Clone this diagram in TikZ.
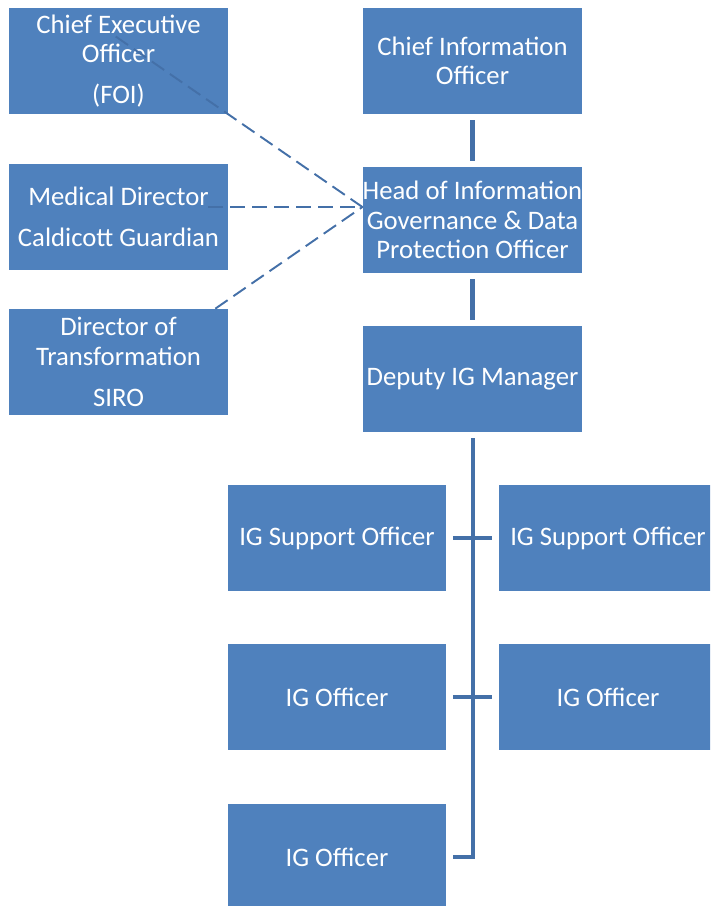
\documentclass[tikz,border=0pt]{standalone}
\usepackage{fontspec}
\setmainfont{Carlito}
\usetikzlibrary{calc}

\definecolor{boxblue}{HTML}{4F81BD}
\definecolor{linkblue}{HTML}{4470A8}

\tikzset{
	post/.style={rectangle,fill=boxblue,text=white,inner sep=0pt,align=center,
		minimum width=4.38cm,minimum height=2.12cm,
		font=\fontsize{15.2}{16.8}\selectfont},
	link/.style={draw=linkblue,line width=2.8pt},
	dotted link/.style={draw=linkblue,line width=1.1pt,dash pattern=on 8.5pt off 4pt}
}

\begin{document}
\begin{tikzpicture}[x=0.02cm,y=-0.02cm]
	\clip (0,0) rectangle (710,906);

	% posts
	\node[post] (ceo) at (118.5,61) {Chief Executive\\Officer\\[6.5pt](FOI)};
	\node[post] (cio) at (472.5,61) {Chief Information\\Officer};
	\node[post] (med) at (118.5,217) {Medical Director\\[6.5pt]Caldicott Guardian};
	\node[post] (dot) at (118.5,362) {Director of\\Transformation\\[6.5pt]SIRO};
	\node[post] (hig) at (472.5,220) {Head of Information\\Governance \& Data\\Protection Officer};
	\node[post] (dig) at (472.5,379) {Deputy IG Manager};

	\node[post] (sup1) at (337,538) {IG Support Officer};
	\node[post] (sup2) at (608,538) {IG Support Officer};
	\node[post] (igo1) at (337,697) {IG Officer};
	\node[post] (igo2) at (608,697) {IG Officer};
	\node[post] (igo3) at (337,857) {IG Officer};

	% reporting lines
	\draw[link] ($(cio.south)+(0,6)$) -- ($(hig.north)+(0,-6)$);
	\draw[link] ($(hig.south)+(0,6)$) -- ($(dig.north)+(0,-6)$);
	\draw[link] ($(dig.south)+(0.5,6)$) |- ($(igo3.east)+(6,0)$);
	\draw[link] ($(sup1.east)+(6,0)$) -- ($(sup2.west)+(-6,0)$);
	\draw[link] ($(igo1.east)+(6,0)$) -- ($(igo2.west)+(-6,0)$);

	% advisory lines
	\coordinate (hub) at ($(hig.west)+(0,-13)$);
	\draw[dotted link] ($(hub)!1.84!(ceo.south east)$) -- (hub);
	\draw[dotted link] ($(med.east)+(-20,-10)$) -- (hub);
	\draw[dotted link] ($(dot.north east)+(-13,0)$) -- (hub);
\end{tikzpicture}
\end{document}
